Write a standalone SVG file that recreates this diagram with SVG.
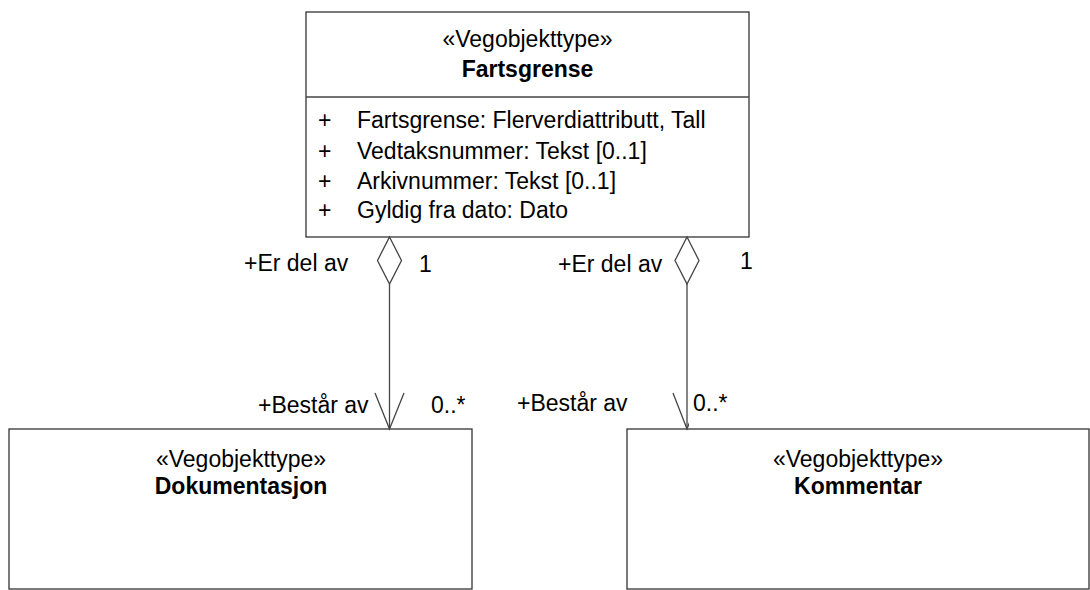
<svg xmlns="http://www.w3.org/2000/svg" width="1090" height="590" viewBox="0 0 1090 590">
<style>
.box{fill:#fff;stroke:#333;stroke-width:1.3}
.ln{fill:none;stroke:#444;stroke-width:1.3}
text{font-family:"Liberation Sans",Arial,sans-serif;font-size:23px;fill:#000}
.c{text-anchor:middle}
.b{font-weight:bold}
</style>
<rect width="1090" height="590" fill="#fff"/>
<g id="fartsgrense">
<rect class="box" x="306" y="12" width="443" height="225"/>
<line class="ln" x1="306" y1="97" x2="749" y2="97"/>
<text class="c" x="527.5" y="47">«Vegobjekttype»</text>
<text class="c b" x="527.5" y="77">Fartsgrense</text>
<text x="318" y="128">+</text><text x="357" y="128">Fartsgrense: Flerverdiattributt, Tall</text>
<text x="318" y="159">+</text><text x="357" y="159">Vedtaksnummer: Tekst [0..1]</text>
<text x="318" y="189">+</text><text x="357" y="189">Arkivnummer: Tekst [0..1]</text>
<text x="318" y="218">+</text><text x="357" y="218">Gyldig fra dato: Dato</text>
</g>
<g id="dokumentasjon">
<rect class="box" x="9" y="429" width="463" height="160"/>
<text class="c" x="241" y="467">«Vegobjekttype»</text>
<text class="c b" x="241" y="494">Dokumentasjon</text>
</g>
<g id="kommentar">
<rect class="box" x="627" y="429" width="462" height="160"/>
<text class="c" x="858" y="467">«Vegobjekttype»</text>
<text class="c b" x="858" y="494">Kommentar</text>
</g>
<g id="connectors">
<polygon class="ln" points="389.5,237 401.5,260.5 389.5,284 377.5,260.5" style="fill:#fff"/>
<line class="ln" x1="389.5" y1="284" x2="389.5" y2="429"/>
<polyline class="ln" points="375,393 389.5,429 404,393"/>
<text x="244" y="271">+Er del av</text>
<text x="419" y="272">1</text>
<text x="258" y="413">+Består av</text>
<text x="431" y="413">0..*</text>
<polygon class="ln" points="687,237 699,260.5 687,284 675,260.5" style="fill:#fff"/>
<line class="ln" x1="687" y1="284" x2="687" y2="429"/>
<polyline class="ln" points="673,393 687,429 701,393"/>
<text x="558" y="272">+Er del av</text>
<text x="740" y="269">1</text>
<text x="517" y="411">+Består av</text>
<rect x="689" y="390" width="42" height="36" fill="#fff"/>
<text x="693" y="411">0..*</text>
</g>
</svg>
